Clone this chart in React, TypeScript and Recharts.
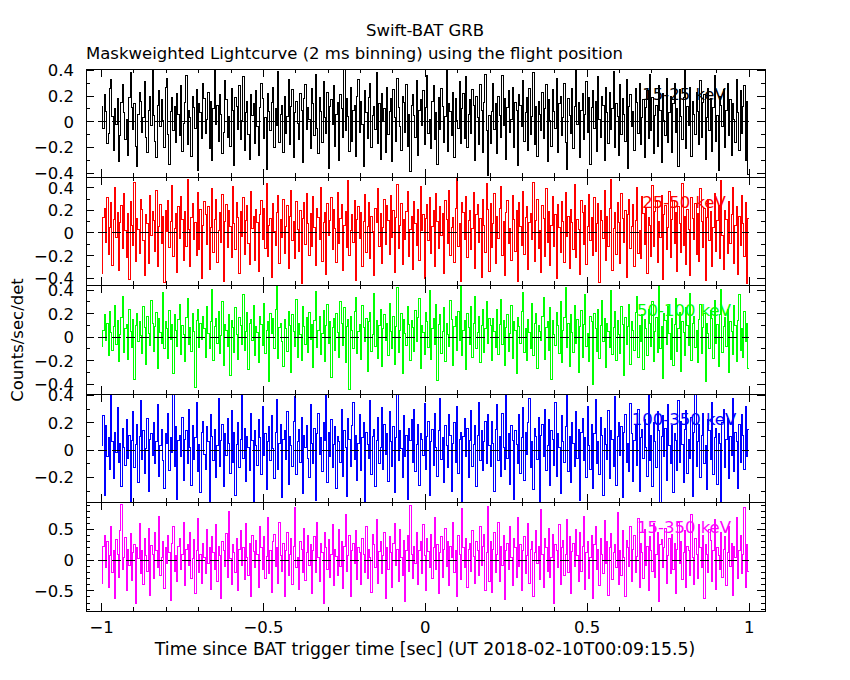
import React from 'react'
import { Line, LineChart, ReferenceLine, XAxis, YAxis } from 'recharts'

// Swift-BAT mask-weighted lightcurves, one panel per energy band.
// Values (coarser bins than the
// original 2 ms), drawn as step histograms.

const T_START = -1
const T_END = 1

const BAND_LABELS = ['15-25 keV', '25-50 keV', '50-100 keV', '100-350 keV', '15-350 keV']

const RATE_15_25 = [
  0.12, -0.05, 0.21, 0.08, -0.17, -0.09, 0.26, 0.33, 0.04, -0.22, 0.1, -0.02, 0.18, -0.31, -0.11, 0.15, 0.29, 0.07, -0.14, 0.02,
  -0.26, 0.19, 0.38, 0.11, -0.06, 0.14, -0.19, -0.35, 0.06, 0.23, 0.16, -0.08, 0.03, 0.31, -0.12, -0.24, 0.09, 0.2, -0.03, 0.42,
  0.05, -0.15, -0.28, 0.13, 0.24, -0.04, 0.17, 0.01, -0.2, 0.27, 0.34, -0.1, -0.33, 0.08, 0.19, -0.07, 0.12, -0.16, 0.22, 0.06,
  -0.11, 0.28, -0.23, -0.01, 0.15, 0.36, -0.18, 0.09, 0.03, -0.27, 0.2, 0.11, -0.05, 0.25, -0.38, 0.14, 0.07, -0.13, 0.3, 0.18,
  -0.09, 0.02, 0.23, -0.21, 0.16, -0.3, 0.1, 0.4, -0.02, 0.13, -0.15, 0.21, 0.06, -0.25, -0.08, 0.32, 0.17, -0.12, 0.04, -0.19,
  0.26, 0.09, -0.34, 0.19, 0.12, -0.06, 0.28, -0.14, 0.01, 0.35, -0.22, 0.07, 0.16, -0.1, -0.29, 0.21, 0.05, 0.14, -0.17, 0.24,
  -0.04, -0.26, 0.11, 0.3, 0.18, -0.13, 0.03, -0.37, 0.22, 0.08, -0.07, 0.15, 0.27, -0.2, 0.1, -0.03, 0.39, -0.16, 0.06, 0.13,
  -0.24, 0.2, -0.09, 0.04, 0.33, -0.18, 0.12, 0.25, -0.28, 0.07, 0.16, -0.01, -0.14, 0.22, 0.09, -0.32, 0.18, 0.29, -0.06, 0.11,
  0.02, -0.21, 0.26, 0.14, -0.11, 0.37, -0.05, -0.25, 0.19, 0.08, -0.16, 0.31, 0.03, -0.09, 0.23, -0.36, 0.12, 0.17, -0.02, 0.28,
  -0.19, 0.06, 0.15, -0.3, 0.21, 0.1, -0.12, 0.41, -0.07, 0.18, 0.04, -0.23, 0.27, -0.15, 0.09, 0.13, -0.27, 0.2, 0.33, -0.08,
  0.16, -0.02, -0.35, 0.24, 0.07, -0.13, 0.19, 0.3, -0.2, 0.05, 0.12, -0.06, 0.38, -0.17, 0.14, -0.29, 0.22, 0.01, 0.1, -0.24,
  0.27, -0.1, 0.08, 0.18, -0.31, 0.25, 0.03, -0.15, 0.34, 0.11, -0.04, -0.22, 0.2, 0.15, -0.08, 0.29, -0.19, 0.06, -0.39, 0.13,
  0.21, 0.05, -0.12, 0.32, -0.26, 0.09, 0.17, -0.03, 0.24, -0.18, 0.11, 0.36, -0.09, 0.02, -0.21, 0.16, 0.28, -0.14, 0.07, -0.33,
  0.19, -0.06, 0.26, 0.12, -0.16, 0.04, 0.4, -0.23, 0.14, 0.08, -0.11, 0.23, -0.28, 0.18, 0.01, -0.05, 0.31, -0.17, 0.1, 0.22,
  -0.13, 0.35, -0.2, 0.06, 0.17, -0.09, 0.25, 0.13, -0.3, 0.2, 0.03, -0.18, 0.29, 0.09, -0.24, 0.15, 0.37, -0.07, -0.42, 0.05,
  -0.17, 0.08, 0.3, -0.06, 0.14, -0.25, 0.2, 0.05, -0.12, 0.36, -0.03, 0.18, -0.29, 0.11, 0.24, -0.08, 0.02, 0.27, -0.2, 0.15,
  0.09, -0.34, 0.21, 0.13, -0.04, 0.32, -0.15, 0.07, 0.19, -0.22, 0.26, -0.1, 0.04, 0.38, -0.18, 0.12, -0.27, 0.16, 0.06, -0.07,
  0.23, -0.13, 0.1, 0.29, -0.31, 0.17, 0.01, -0.19, 0.25, 0.08, -0.05, 0.34, -0.24, 0.14, 0.2, -0.11, 0.03, 0.3, -0.16, -0.37,
  0.18, 0.05, -0.09, 0.26, -0.21, 0.12, 0.41, -0.02, 0.15, -0.28, 0.09, 0.22, -0.14, 0.06, 0.31, -0.08, 0.19, -0.33, 0.11, 0.24,
  -0.05, 0.16, -0.23, 0.35, 0.02, -0.12, 0.2, 0.13, -0.3, 0.27, 0.07, -0.17, 0.23, -0.06, 0.1, 0.39, -0.2, 0.14, 0.04, -0.26,
  0.29, -0.1, 0.18, 0.06, -0.15, 0.33, -0.36, 0.12, 0.21, -0.04, 0.08, -0.22, 0.26, 0.15, -0.09, 0.3, -0.18, 0.03, 0.17, -0.28,
  0.11, 0.24, -0.13, 0.37, -0.07, 0.19, -0.25, 0.05, 0.13, -0.19, 0.28, 0.09, -0.32, 0.22, 0.01, -0.11, 0.34, -0.16, 0.07, 0.2,
  -0.24, 0.14, 0.3, -0.08, 0.1, -0.35, 0.25, 0.04, -0.14, 0.19, 0.4, -0.21, 0.12, -0.03, 0.27, -0.27, 0.16, 0.06, -0.1, 0.23,
  0.08, -0.18, 0.32, -0.12, 0.15, 0.21, -0.29, 0.03, 0.26, -0.07, 0.18, -0.23, 0.11, 0.36, -0.15, 0.05, -0.38, 0.2, 0.13, -0.04,
  0.25, -0.2, 0.09, 0.3, -0.11, 0.17, -0.26, 0.14, 0.02, -0.16, 0.33, 0.07, -0.22, 0.24, -0.09, 0.12, 0.28, -0.3, 0.16, -0.41,
]

const RATE_25_50 = [
  -0.36, 0.14, 0.22, -0.08, 0.31, -0.19, 0.05, 0.27, -0.29, 0.12, 0.4, -0.04, 0.18, -0.33, 0.09, 0.24, -0.14, 0.35, 0.02, -0.22,
  0.17, -0.41, 0.28, 0.07, -0.11, 0.45, -0.25, 0.13, 0.03, -0.18, 0.3, 0.21, -0.07, -0.38, 0.16, 0.08, -0.27, 0.33, -0.02, 0.19,
  0.11, -0.16, 0.38, -0.3, 0.06, 0.25, -0.09, 0.15, -0.44, 0.2, 0.01, 0.29, -0.13, 0.1, 0.42, -0.21, 0.04, 0.17, -0.35, 0.23,
  -0.05, 0.32, 0.12, -0.24, 0.19, -0.12, 0.47, 0.03, -0.3, 0.14, 0.26, -0.06, 0.09, -0.2, 0.36, -0.15, 0.21, -0.4, 0.07, 0.28,
  0.16, -0.1, 0.23, -0.32, 0.05, 0.39, -0.17, 0.12, 0.3, -0.26, 0.02, 0.18, -0.08, 0.34, -0.43, 0.1, 0.25, -0.13, 0.2, 0.06,
  -0.22, 0.41, 0.08, -0.15, 0.27, 0.14, -0.36, 0.19, -0.03, 0.31, -0.19, 0.11, 0.24, -0.09, -0.28, 0.37, 0.04, 0.15, -0.24, 0.21,
  0.09, -0.34, 0.16, 0.29, -0.06, 0.22, -0.14, 0.44, -0.21, 0.07, 0.13, -0.39, 0.26, 0.01, -0.11, 0.18, 0.33, -0.27, 0.12, -0.04,
  0.3, -0.18, 0.06, 0.24, -0.31, 0.15, 0.38, -0.07, 0.1, -0.23, 0.28, 0.03, -0.16, 0.2, -0.45, 0.13, 0.27, -0.1, 0.35, 0.08,
  -0.2, 0.17, -0.12, 0.32, 0.05, -0.29, 0.22, 0.14, -0.06, 0.4, -0.25, 0.09, 0.18, -0.37, 0.26, -0.02, 0.11, 0.31, -0.15, 0.21,
  0.04, -0.26, 0.36, -0.09, 0.13, 0.25, -0.33, 0.07, 0.19, -0.13, 0.46, -0.2, 0.02, 0.16, -0.08, 0.29, -0.42, 0.12, 0.23, -0.05,
  0.18, -0.3, 0.1, 0.34, -0.17, 0.06, 0.27, -0.23, 0.15, 0.01, -0.38, 0.22, 0.09, 0.39, -0.12, 0.17, -0.27, 0.05, 0.3, -0.1,
  0.24, 0.11, -0.19, 0.33, -0.04, 0.2, -0.35, 0.14, 0.43, -0.14, 0.07, 0.26, -0.28, 0.12, -0.06, 0.19, 0.37, -0.21, 0.03, 0.15,
  -0.32, 0.28, 0.08, -0.11, 0.21, -0.24, 0.41, 0.02, 0.16, -0.4, 0.13, 0.25, -0.07, 0.31, -0.18, 0.06, 0.2, -0.3, 0.35, 0.1,
  -0.14, 0.23, -0.02, 0.17, -0.36, 0.29, 0.12, -0.09, 0.38, -0.2, 0.05, 0.14, -0.26, 0.22, 0.48, -0.12, 0.08, -0.43, 0.27, 0.18,
  -0.06, 0.32, -0.22, 0.11, 0.2, -0.15, 0.04, 0.36, -0.31, 0.16, 0.25, -0.08, 0.13, -0.39, 0.3, 0.07, -0.17, 0.44, 0.21, -0.34,
  0.26, -0.13, 0.08, 0.35, -0.27, 0.15, -0.05, 0.22, 0.41, -0.2, 0.1, -0.38, 0.18, 0.29, -0.09, 0.04, -0.24, 0.33, 0.12, -0.16,
  0.2, -0.43, 0.27, 0.06, -0.11, 0.37, -0.19, 0.14, 0.23, -0.32, 0.09, 0.17, -0.06, 0.45, -0.25, 0.11, 0.3, -0.14, 0.02, -0.35,
  0.24, 0.13, -0.21, 0.39, -0.08, 0.19, -0.29, 0.07, 0.32, -0.12, 0.16, -0.4, 0.25, 0.05, -0.17, 0.28, 0.1, -0.26, 0.36, -0.03,
  0.15, -0.31, 0.21, 0.09, -0.15, 0.43, -0.22, 0.12, 0.03, -0.37, 0.29, 0.18, -0.1, 0.24, -0.28, 0.06, 0.34, -0.07, 0.14, -0.2,
  0.31, -0.16, 0.08, 0.26, -0.44, 0.2, 0.11, -0.05, 0.38, -0.24, 0.15, -0.12, 0.22, 0.47, -0.33, 0.04, 0.18, -0.19, 0.27, 0.09,
  -0.27, 0.35, 0.13, -0.08, 0.2, -0.39, 0.16, 0.3, -0.14, 0.06, 0.25, -0.3, 0.11, 0.4, -0.18, 0.02, -0.23, 0.32, 0.17, -0.1,
  0.22, -0.36, 0.14, 0.07, -0.21, 0.42, -0.12, 0.19, 0.28, -0.26, 0.1, -0.04, 0.33, -0.41, 0.16, 0.24, -0.15, 0.05, 0.37, -0.22,
  0.12, 0.29, -0.09, 0.18, -0.34, 0.23, 0.08, -0.17, 0.44, -0.11, 0.15, -0.28, 0.21, 0.03, -0.38, 0.31, 0.13, -0.06, 0.26, -0.19,
  0.17, -0.25, 0.39, 0.1, -0.13, 0.22, -0.42, 0.14, 0.3, -0.07, 0.19, -0.3, 0.05, 0.35, -0.16, 0.11, 0.24, -0.23, 0.46, -0.02,
  -0.32, 0.2, 0.12, -0.18, 0.28, -0.09, 0.16, 0.4, -0.27, 0.07, 0.23, -0.37, 0.15, -0.11, 0.33, 0.08, -0.21, 0.27, -0.45, 0.13,
]

const RATE_50_100 = [
  -0.08, 0.06, 0.19, -0.03, 0.12, -0.16, 0.22, 0.04, -0.11, 0.09, 0.27, -0.06, 0.14, -0.21, 0.02, 0.17, 0.35, -0.13, 0.07, 0.11,
  -0.19, 0.24, 0.05, -0.09, 0.15, -0.36, 0.1, 0.2, -0.04, 0.13, 0.01, -0.14, 0.26, 0.08, -0.23, 0.18, 0.03, -0.07, 0.31, 0.12,
  -0.12, 0.09, 0.21, -0.27, 0.16, 0.04, -0.05, 0.38, -0.1, 0.13, 0.07, -0.18, 0.23, -0.02, 0.11, -0.31, 0.19, 0.06, -0.08, 0.15,
  0.28, -0.15, 0.1, 0.02, -0.21, 0.17, 0.33, -0.06, 0.08, -0.12, 0.2, 0.05, -0.43, 0.14, 0.24, -0.09, 0.12, -0.02, 0.18, 0.07,
  -0.17, 0.26, 0.03, -0.1, 0.13, 0.41, -0.2, 0.09, 0.16, -0.05, 0.22, -0.14, 0.01, 0.3, -0.24, 0.11, 0.06, -0.08, 0.19, -0.33,
  0.14, 0.08, -0.13, 0.25, 0.02, -0.19, 0.17, 0.1, -0.06, 0.36, -0.11, 0.05, 0.21, -0.28, 0.12, 0.15, -0.03, 0.27, -0.16, 0.09,
  0.04, -0.22, 0.18, 0.11, -0.07, 0.29, -0.14, 0.06, 0.13, -0.38, 0.2, 0.03, 0.16, -0.1, 0.24, 0.44, -0.18, 0.08, 0.12, -0.04,
  -0.25, 0.15, 0.07, -0.12, 0.22, 0.1, -0.3, 0.19, 0.05, -0.08, 0.32, -0.17, 0.12, 0.02, -0.2, 0.26, 0.09, -0.06, 0.17, -0.13,
  0.21, -0.02, 0.11, -0.26, 0.14, 0.39, -0.09, 0.06, 0.18, -0.15, 0.03, 0.23, -0.21, 0.1, 0.28, -0.05, 0.13, -0.34, 0.08, 0.16,
  -0.11, 0.2, 0.04, -0.17, 0.3, 0.12, -0.07, 0.25, -0.22, 0.09, 0.15, -0.45, 0.18, 0.06, -0.1, 0.22, 0.34, -0.14, 0.05, 0.11,
  -0.19, 0.27, 0.08, -0.04, 0.16, -0.29, 0.13, 0.21, -0.12, 0.02, 0.37, -0.08, 0.14, -0.18, 0.1, 0.24, -0.25, 0.07, 0.19, -0.03,
  0.12, -0.16, 0.29, 0.05, -0.1, 0.18, -0.23, 0.09, 0.42, -0.13, 0.06, 0.2, -0.31, 0.15, 0.03, -0.07, 0.26, 0.11, -0.2, 0.14,
  0.08, -0.12, 0.23, -0.04, 0.17, 0.33, -0.27, 0.1, 0.04, -0.15, 0.21, 0.13, -0.09, 0.4, -0.19, 0.07, 0.16, -0.06, 0.28, -0.37,
  0.11, 0.19, -0.14, 0.05, 0.25, -0.21, 0.12, 0.02, -0.08, 0.31, 0.15, -0.24, 0.09, 0.18, -0.11, 0.22, -0.03, 0.43, -0.16, 0.06,
  0.14, -0.28, 0.2, 0.08, -0.06, 0.26, -0.17, 0.12, 0.35, -0.1, 0.04, 0.18, -0.22, 0.1, 0.24, -0.13, 0.07, 0.3, -0.05, 0.16,
  0.1, -0.2, 0.16, 0.05, -0.09, 0.24, -0.15, 0.11, 0.32, -0.06, 0.14, -0.24, 0.08, 0.19, -0.12, 0.03, 0.27, -0.18, 0.13, 0.06,
  -0.31, 0.17, 0.09, -0.05, 0.22, 0.38, -0.13, 0.07, -0.2, 0.15, 0.04, -0.1, 0.29, -0.16, 0.12, 0.2, -0.27, 0.1, 0.05, -0.03,
  0.18, 0.34, -0.19, 0.08, 0.13, -0.11, 0.25, -0.36, 0.14, 0.02, -0.07, 0.21, 0.1, -0.14, 0.3, -0.22, 0.06, 0.17, 0.42, -0.09,
  0.12, -0.25, 0.19, 0.04, -0.13, 0.27, -0.05, 0.15, -0.3, 0.09, 0.23, -0.17, 0.11, 0.36, -0.08, 0.03, -0.21, 0.18, 0.13, -0.4,
  0.2, 0.07, -0.12, 0.24, -0.18, 0.1, 0.31, -0.04, 0.16, -0.26, 0.12, 0.05, -0.09, 0.4, -0.15, 0.08, 0.22, -0.2, 0.14, 0.02,
  -0.14, 0.26, 0.11, -0.33, 0.17, -0.06, 0.09, 0.28, -0.23, 0.13, 0.06, -0.11, 0.21, 0.35, -0.17, 0.1, -0.04, 0.19, -0.28, 0.15,
  0.07, -0.16, 0.24, 0.12, -0.08, 0.3, -0.21, 0.05, 0.17, -0.13, 0.44, -0.1, 0.09, -0.35, 0.2, 0.14, -0.06, 0.26, 0.03, -0.19,
  0.16, -0.24, 0.11, 0.33, -0.12, 0.07, 0.21, -0.29, 0.13, 0.04, -0.16, 0.25, 0.1, -0.07, 0.37, -0.2, 0.12, 0.18, -0.09, 0.06,
  -0.22, 0.15, 0.28, -0.14, 0.08, 0.2, -0.38, 0.12, 0.03, -0.1, 0.23, 0.16, -0.18, 0.31, -0.05, 0.11, -0.25, 0.19, 0.41, -0.13,
  0.09, 0.17, -0.08, 0.24, -0.3, 0.13, 0.05, -0.15, 0.27, 0.1, -0.21, 0.14, 0.36, -0.11, 0.07, -0.17, 0.22, -0.04, 0.12, -0.27,
]

const RATE_100_350 = [
  0.03, 0.25, -0.33, 0.18, -0.05, 0.09, -0.14, 0.4, 0.06, -0.21, 0.13, -0.02, 0.31, -0.09, 0.05, -0.27, 0.16, 0.02, -0.11, 0.22,
  -0.06, 0.11, -0.38, 0.07, 0.28, -0.13, 0.04, 0.19, -0.24, 0.1, 0.36, -0.07, 0.14, -0.17, 0.01, 0.23, -0.3, 0.08, 0.12, -0.04,
  0.2, -0.1, 0.06, 0.33, -0.19, 0.03, 0.15, -0.08, -0.28, 0.12, 0.05, 0.27, -0.15, 0.09, -0.02, 0.41, -0.12, 0.17, -0.36, 0.07,
  0.11, -0.05, 0.24, -0.22, 0.08, 0.14, -0.1, 0.3, 0.02, -0.26, 0.18, -0.07, 0.09, 0.35, -0.16, 0.04, -0.31, 0.13, 0.21, -0.03,
  -0.14, 0.17, 0.06, -0.38, 0.26, 0.1, -0.08, 0.15, -0.2, 0.03, 0.38, -0.12, 0.07, 0.19, -0.27, 0.12, -0.04, 0.23, 0.05, -0.17,
  0.29, -0.09, 0.13, -0.33, 0.04, 0.2, -0.13, 0.08, 0.41, -0.06, 0.16, -0.23, 0.1, 0.02, -0.15, 0.27, 0.07, -0.38, 0.14, 0.03,
  -0.11, 0.22, 0.09, -0.18, 0.32, -0.04, 0.12, -0.29, 0.06, 0.17, -0.08, 0.25, 0.01, -0.21, 0.13, 0.37, -0.14, 0.05, 0.19, -0.35,
  0.08, 0.14, -0.07, 0.28, -0.25, 0.1, 0.03, -0.12, 0.21, 0.39, -0.18, 0.06, 0.15, -0.09, 0.24, -0.32, 0.11, 0.02, 0.18, -0.06,
  -0.2, 0.33, 0.05, -0.1, 0.16, -0.37, 0.12, 0.27, -0.03, 0.09, -0.16, 0.2, 0.07, 0.4, -0.24, 0.13, -0.05, 0.22, -0.13, 0.04,
  0.17, -0.28, 0.1, 0.06, -0.09, 0.3, -0.19, 0.14, 0.02, -0.34, 0.23, 0.08, -0.12, 0.18, 0.35, -0.07, 0.11, -0.22, 0.05, 0.26,
  -0.15, 0.09, 0.2, -0.38, 0.13, 0.04, -0.06, 0.36, -0.18, 0.1, 0.15, -0.27, 0.07, 0.24, -0.1, 0.02, 0.31, -0.14, 0.19, -0.03,
  0.12, -0.23, 0.28, 0.06, -0.12, 0.17, -0.31, 0.09, 0.41, -0.08, 0.14, 0.01, -0.2, 0.25, -0.05, 0.11, -0.36, 0.16, 0.07, 0.22,
  -0.09, 0.3, -0.16, 0.04, 0.19, -0.26, 0.12, 0.08, -0.04, 0.34, -0.14, 0.1, 0.21, -0.33, 0.06, 0.15, -0.11, 0.27, 0.02, -0.19,
  0.14, 0.38, -0.07, 0.09, -0.24, 0.18, 0.03, -0.13, 0.26, 0.11, -0.3, 0.05, 0.2, -0.09, 0.32, -0.17, 0.08, 0.13, -0.38, 0.1,
  0.23, -0.05, 0.16, -0.2, 0.07, 0.29, -0.12, 0.04, 0.18, -0.27, 0.11, 0.35, -0.08, 0.14, -0.15, 0.06, 0.21, -0.1, 0.26, 0.03,
  -0.12, 0.21, 0.05, -0.3, 0.15, 0.33, -0.08, 0.1, -0.19, 0.27, 0.02, -0.14, 0.4, -0.06, 0.12, -0.25, 0.18, 0.07, -0.36, 0.14,
  0.04, -0.1, 0.26, -0.17, 0.09, 0.31, -0.22, 0.13, -0.03, 0.2, 0.38, -0.13, 0.06, -0.29, 0.16, 0.1, -0.07, 0.24, -0.38, 0.11,
  0.19, -0.05, 0.3, -0.15, 0.03, 0.22, -0.26, 0.14, 0.08, -0.11, 0.35, -0.19, 0.12, 0.02, -0.32, 0.25, 0.06, -0.09, 0.17, 0.41,
  -0.16, 0.1, -0.24, 0.2, 0.05, -0.12, 0.28, -0.06, 0.15, -0.37, 0.13, 0.23, -0.08, 0.09, -0.2, 0.32, 0.03, -0.14, 0.19, -0.28,
  0.12, 0.37, -0.1, 0.06, -0.18, 0.24, 0.11, -0.33, 0.16, 0.04, -0.07, 0.29, -0.21, 0.14, 0.08, -0.12, 0.39, -0.26, 0.1, 0.2,
  -0.04, 0.17, -0.35, 0.13, 0.26, -0.09, 0.05, -0.16, 0.34, 0.12, -0.23, 0.07, 0.18, -0.11, 0.3, -0.3, 0.09, 0.15, -0.06, 0.22,
  0.02, -0.19, 0.4, -0.08, 0.11, -0.27, 0.2, 0.06, -0.13, 0.28, 0.14, -0.38, 0.1, 0.25, -0.05, 0.16, -0.22, 0.33, 0.03, -0.1,
  0.18, -0.31, 0.12, 0.07, -0.15, 0.36, -0.09, 0.21, 0.04, -0.24, 0.15, 0.29, -0.17, 0.08, -0.06, 0.24, -0.34, 0.13, 0.41, -0.12,
  0.06, 0.19, -0.2, 0.11, 0.27, -0.1, 0.03, -0.29, 0.22, 0.14, -0.07, 0.35, -0.18, 0.09, 0.16, -0.25, 0.12, 0.05, -0.38, 0.2,
  0.3, -0.13, 0.08, 0.23, -0.21, 0.1, -0.04, 0.38, -0.16, 0.13, 0.06, -0.28, 0.19, -0.09, 0.26, 0.11, -0.14, 0.32, -0.05, 0.15,
]

const RATE_15_350 = [
  -0.38, 0.22, 0.41, -0.12, 0.3, -0.45, 0.08, 0.55, -0.2, 0.15, -0.62, 0.33, 0.1, -0.28, 0.48, 0.91, -0.15, 0.05, 0.37, -0.5,
  0.18, -0.08, 0.44, -0.33, 0.12, 0.26, -0.7, 0.2, 0.03, 0.6, -0.22, 0.15, -0.4, 0.35, 0.07, -0.18, 0.52, -0.58, 0.24, 0.1,
  -0.3, 0.46, 0.16, -0.12, 0.72, -0.25, 0.05, 0.3, -0.46, 0.2, -0.05, 0.4, 0.12, -0.66, 0.28, 0.55, -0.18, 0.08, -0.35, 0.22,
  0.35, -0.15, 0.1, 0.62, -0.42, 0.18, 0.25, -0.08, 0.45, -0.3, 0.02, 0.33, -0.55, 0.15, 0.68, -0.2, 0.1, -0.38, 0.28, 0.05,
  -0.22, 0.5, -0.06, 0.2, -0.48, 0.38, 0.12, -0.15, 0.58, -0.35, 0.22, 0.08, -0.62, 0.3, 0.15, -0.1, 0.44, -0.28, 0.8, 0.03,
  -0.4, 0.25, 0.12, -0.2, 0.35, -0.5, 0.18, 0.48, -0.08, 0.2, -0.32, 0.6, 0.05, -0.25, 0.28, -0.6, 0.4, 0.14, -0.12, 0.32,
  0.1, -0.45, 0.55, 0.2, -0.15, 0.38, -0.3, 0.06, 0.7, -0.22, 0.15, -0.52, 0.3, 0.42, -0.1, 0.2, -0.38, 0.62, 0.08, -0.18,
  0.28, -0.6, 0.15, 0.45, -0.25, 0.1, 0.35, -0.4, 0.22, 0.86, -0.12, 0.05, -0.48, 0.3, 0.18, -0.2, 0.52, -0.33, 0.12, 0.4,
  -0.08, 0.25, -0.55, 0.16, 0.38, -0.2, 0.62, 0.04, -0.35, 0.28, 0.12, -0.7, 0.45, 0.2, -0.15, 0.33, -0.28, 0.1, 0.58, -0.42,
  0.18, 0.06, -0.25, 0.5, -0.1, 0.3, -0.46, 0.22, 0.75, -0.18, 0.08, 0.4, -0.6, 0.15, 0.28, -0.05, 0.48, -0.32, 0.2, 0.12,
  -0.4, 0.35, 0.1, -0.2, 0.55, -0.3, 0.18, 0.05, -0.52, 0.42, 0.25, -0.12, 0.66, -0.38, 0.14, 0.3, -0.22, 0.08, 0.45, -0.62,
  0.2, -0.15, 0.38, 0.12, -0.45, 0.28, 0.6, -0.08, 0.18, -0.35, 0.5, 0.04, -0.25, 0.32, -0.68, 0.15, 0.4, -0.18, 0.9, 0.1,
  -0.3, 0.22, -0.05, 0.46, -0.4, 0.16, 0.3, -0.22, 0.58, 0.08, -0.5, 0.35, 0.14, -0.12, 0.42, -0.3, 0.2, 0.7, -0.15, 0.25,
  -0.55, 0.12, 0.38, -0.28, 0.18, 0.52, -0.1, 0.3, -0.42, 0.22, 0.05, 0.62, -0.2, 0.15, -0.6, 0.4, 0.1, -0.32, 0.85, 0.2,
  -0.12, 0.35, -0.45, 0.18, 0.28, -0.18, 0.48, 0.06, -0.38, 0.3, 0.15, -0.25, 0.55, -0.08, 0.22, 0.42, -0.5, 0.12, 0.88, -0.35,
  0.3, -0.52, 0.18, 0.45, -0.2, 0.1, 0.62, -0.35, 0.22, -0.08, 0.4, -0.65, 0.15, 0.28, -0.15, 0.55, 0.05, -0.42, 0.35, 0.2,
  -0.28, 0.7, -0.1, 0.25, -0.5, 0.15, 0.38, -0.22, 0.08, 0.6, -0.38, 0.18, 0.3, -0.6, 0.12, 0.48, -0.05, 0.22, -0.32, 0.82,
  0.1, -0.45, 0.35, 0.2, -0.18, 0.52, -0.28, 0.05, 0.42, -0.7, 0.25, 0.15, -0.12, 0.58, -0.4, 0.2, 0.32, -0.25, 0.1, 0.66,
  -0.2, 0.38, -0.55, 0.14, 0.28, -0.1, 0.5, 0.08, -0.35, 0.45, -0.18, 0.22, 0.72, -0.48, 0.12, 0.3, -0.3, 0.05, 0.4, -0.62,
  0.25, 0.55, -0.15, 0.18, -0.42, 0.35, 0.1, -0.22, 0.64, -0.05, 0.3, -0.58, 0.2, 0.44, -0.32, 0.12, 0.26, -0.12, 0.78, -0.4,
  0.15, -0.25, 0.48, 0.05, -0.6, 0.32, 0.2, -0.1, 0.55, -0.35, 0.18, 0.4, -0.2, 0.06, 0.68, -0.45, 0.28, 0.12, -0.3, 0.5,
  -0.08, 0.22, -0.5, 0.38, 0.15, -0.18, 0.6, -0.28, 0.1, 0.45, -0.68, 0.25, 0.33, -0.12, 0.2, 0.52, -0.38, 0.08, 0.35, -0.22,
  0.42, -0.15, 0.28, -0.55, 0.18, 0.62, -0.05, 0.3, -0.32, 0.12, 0.48, -0.45, 0.22, 0.15, -0.25, 0.75, 0.05, -0.4, 0.35, 0.1,
  -0.3, 0.58, 0.2, -0.12, 0.4, -0.62, 0.25, 0.1, -0.2, 0.5, 0.32, -0.35, 0.15, 0.66, -0.48, 0.2, 0.08, -0.15, 0.45, -0.28,
  0.18, 0.38, -0.42, 0.12, 0.55, -0.1, 0.28, -0.58, 0.22, 0.05, 0.7, -0.3, 0.15, 0.4, -0.22, 0.1, 0.86, -0.45, 0.25, -0.18,
]

// axis ticks
const X_DOMAIN = [-1.048, 1.049]
const X_TICKS = [-1, -0.9, -0.8, -0.7, -0.6, -0.5, -0.4, -0.3, -0.2, -0.1, 0, 0.1, 0.2, 0.3, 0.4, 0.5, 0.6, 0.7, 0.8, 0.9, 1]
const X_LABELS = [-1, -0.5, 0, 0.5, 1]

const Y_TICKS_04 = [-0.4, -0.3, -0.2, -0.1, 0, 0.1, 0.2, 0.3, 0.4]
const Y_TICKS_04_SHORT = [-0.3, -0.2, -0.1, 0, 0.1, 0.2, 0.3, 0.4]
const Y_TICKS_09 = [-0.8, -0.7, -0.6, -0.5, -0.4, -0.3, -0.2, -0.1, 0, 0.1, 0.2, 0.3, 0.4, 0.5, 0.6, 0.7, 0.8, 0.9]
const Y_LABELS_04 = [-0.4, -0.2, 0, 0.2, 0.4]
const Y_LABELS_05 = [-0.5, 0, 0.5]

const FONT = '"DejaVu Sans", sans-serif'
const FONT_SIZE = 16.5
const PLOT_LEFT = 86
const PLOT_RIGHT = 765
const PAD = 24

const panels = [
  { label: BAND_LABELS[0], values: RATE_15_25, color: '#000000', top: 69, height: 108, domain: [-0.43, 0.41], ticks: Y_TICKS_04, labels: Y_LABELS_04 },
  { label: BAND_LABELS[1], values: RATE_25_50, color: '#ff0000', top: 177, height: 108, domain: [-0.46, 0.495], ticks: Y_TICKS_04, labels: Y_LABELS_04 },
  { label: BAND_LABELS[2], values: RATE_50_100, color: '#00ff00', top: 285, height: 109, domain: [-0.485, 0.445], ticks: Y_TICKS_04, labels: Y_LABELS_04 },
  { label: BAND_LABELS[3], values: RATE_100_350, color: '#0000ff', top: 394, height: 108, domain: [-0.38, 0.41], ticks: Y_TICKS_04_SHORT, labels: Y_LABELS_04 },
  { label: BAND_LABELS[4], values: RATE_15_350, color: '#ff00ff', top: 502, height: 109, domain: [-0.83, 0.95], ticks: Y_TICKS_09, labels: Y_LABELS_05 },
]

function toSteps(values: number[]) {
  const bin = (T_END - T_START) / values.length
  const rows = values.map((v, i) => ({ t: T_START + i * bin, v }))
  rows.push({ t: T_END, v: values[values.length - 1] })
  return rows
}

const fmt = (v: number) => {
  const s = String(Math.round(v * 10) / 10)
  return s.startsWith('-') ? '\u2212' + s.slice(1) : s
}

const isIn = (list: number[], v: number) => list.some((l) => Math.abs(l - v) < 1e-6)

function YTick({ x, y, payload, side, labels }: any) {
  const major = isIn(labels, payload.value)
  const len = major ? 8 : 4
  const dir = side === 'left' ? 1 : -1
  return (
    <g>
      <line x1={x} x2={x + dir * len} y1={y} y2={y} stroke="#000" strokeWidth={1} shapeRendering="crispEdges" />
      {side === 'left' && major && (
        <text x={x - 12} y={y} dy="0.36em" textAnchor="end" fontFamily={FONT} fontSize={FONT_SIZE} fill="#000">
          {fmt(payload.value)}
        </text>
      )}
    </g>
  )
}

function XTick({ x, y, payload, side, showText }: any) {
  const major = isIn(X_LABELS, payload.value)
  const len = major ? 8 : 4
  const dir = side === 'bottom' ? -1 : 1
  return (
    <g>
      <line x1={x} x2={x} y1={y} y2={y + dir * len} stroke="#000" strokeWidth={1} shapeRendering="crispEdges" />
      {showText && major && (
        <text x={x} y={y + 16} dy="0.36em" textAnchor="middle" fontFamily={FONT} fontSize={FONT_SIZE} fill="#000">
          {fmt(payload.value)}
        </text>
      )}
    </g>
  )
}

function Panel({ p, last }: { p: (typeof panels)[number]; last: boolean }) {
  const data = toSteps(p.values)
  const bottomPad = last ? 40 : PAD
  return (
    <div style={{ position: 'absolute', left: 0, top: p.top - PAD - 1 }}>
      <LineChart
        width={850}
        height={p.height + PAD + bottomPad + 2}
        data={data}
        margin={{ top: PAD, bottom: bottomPad, left: 0, right: 0 }}
      >
        <XAxis
          xAxisId="b"
          dataKey="t"
          type="number"
          domain={X_DOMAIN}
          ticks={X_TICKS}
          interval={0}
          height={1}
          tickSize={0}
          tickMargin={0}
          tickLine={false}
          axisLine={false}
          tick={<XTick side="bottom" showText={last} />}
          allowDataOverflow
        />
        <XAxis
          xAxisId="t"
          orientation="top"
          dataKey="t"
          type="number"
          domain={X_DOMAIN}
          ticks={X_TICKS}
          interval={0}
          height={1}
          tickSize={0}
          tickMargin={0}
          tickLine={false}
          axisLine={false}
          tick={<XTick side="top" showText={false} />}
          allowDataOverflow
        />
        <YAxis
          yAxisId="l"
          type="number"
          domain={p.domain}
          ticks={p.ticks}
          interval={0}
          width={PLOT_LEFT}
          tickSize={0}
          tickMargin={0}
          tickLine={false}
          axisLine={false}
          tick={<YTick side="left" labels={p.labels} />}
          allowDataOverflow
        />
        <YAxis
          yAxisId="r"
          orientation="right"
          type="number"
          domain={p.domain}
          ticks={p.ticks}
          interval={0}
          width={850 - PLOT_RIGHT}
          tickSize={0}
          tickMargin={0}
          tickLine={false}
          axisLine={false}
          tick={<YTick side="right" labels={p.labels} />}
          allowDataOverflow
        />
        <Line
          xAxisId="b"
          yAxisId="l"
          type="stepAfter"
          dataKey="v"
          stroke={p.color}
          strokeWidth={1}
          shapeRendering="crispEdges"
          dot={false}
          activeDot={false}
          isAnimationActive={false}
        />
        <ReferenceLine
          xAxisId="b"
          yAxisId="l"
          segment={[{ x: -1.01, y: 0 }, { x: 1, y: 0 }]}
          stroke="#000"
          strokeDasharray="9 5"
          shapeRendering="crispEdges"
        />
      </LineChart>
    </div>
  )
}

const textStyle: React.CSSProperties = {
  position: 'absolute',
  fontFamily: FONT,
  fontSize: FONT_SIZE,
  color: '#000',
  whiteSpace: 'nowrap',
  lineHeight: '18px',
}

export default function App() {
  return (
    <div style={{ position: 'absolute', left: 0, top: 0, width: 850, height: 680, background: '#fff', overflow: 'hidden' }}>
      <div style={{ ...textStyle, left: 0, width: 850, top: 22, textAlign: 'center' }}>Swift-BAT GRB</div>
      <div style={{ ...textStyle, left: PLOT_LEFT, top: 45 }}>
        Maskweighted Lightcurve (2 ms binning) using the flight position
      </div>
      {panels.map((p) => (
        <div
          key={p.label}
          style={{ ...textStyle, left: 684 - 80, width: 160, top: p.top + 17, textAlign: 'center', color: p.color }}
        >
          {p.label}
        </div>
      ))}
      {panels.map((p, i) => (
        <Panel key={p.label} p={p} last={i === panels.length - 1} />
      ))}
      {panels.map((p) => (
        <div
          key={'frame-' + p.label}
          style={{
            position: 'absolute',
            left: PLOT_LEFT,
            top: p.top,
            width: PLOT_RIGHT - PLOT_LEFT + 1,
            height: p.height + 1,
            boxSizing: 'border-box',
            border: '1px solid #000',
            pointerEvents: 'none',
          }}
        />
      ))}
      <div
        style={{
          ...textStyle,
          left: 18 - 100,
          width: 200,
          top: 340 - 9,
          textAlign: 'center',
          transform: 'rotate(-90deg)',
        }}
      >
        Counts/sec/det
      </div>
      <div style={{ ...textStyle, left: 0, width: 850, top: 640, fontSize: 17.3, textAlign: 'center' }}>
        Time since BAT trigger time [sec] (UT 2018-02-10T00:09:15.5)
      </div>
    </div>
  )
}
